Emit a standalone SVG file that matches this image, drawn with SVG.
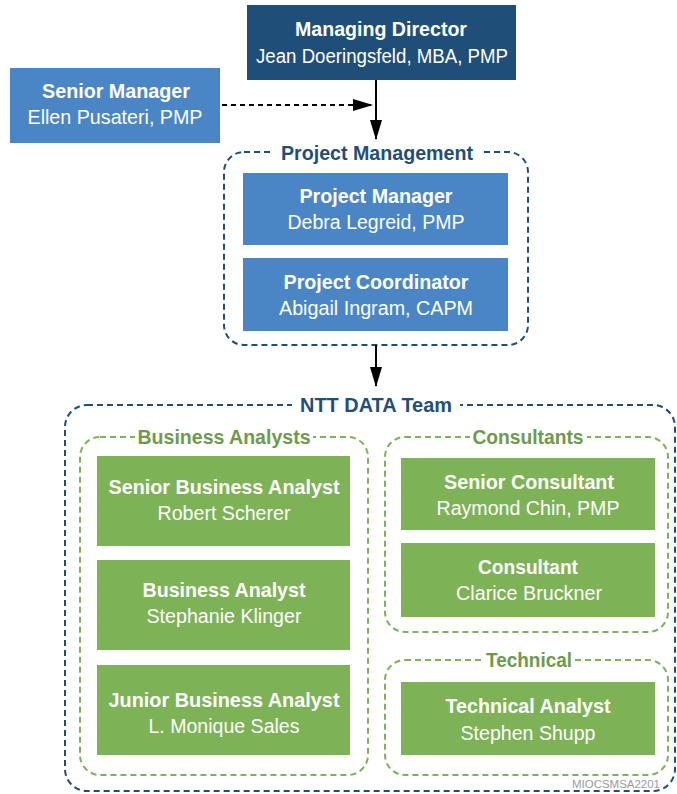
<svg xmlns="http://www.w3.org/2000/svg" width="677" height="794" viewBox="0 0 677 794">
<defs>
<style>
text{font-family:"Liberation Sans Narrow","Liberation Sans",Arial,sans-serif;text-anchor:middle}
.t{font-weight:bold;font-size:21px;fill:#fff}
.n{font-size:20px;fill:#fff}
.dark{fill:#1F4E79}
.blue{fill:#4A86C6}
.green{fill:#7DB356}
.cb{fill:none;stroke:#1F4E79;stroke-width:2;stroke-dasharray:6 4}
.cg{fill:none;stroke:#7DB356;stroke-width:2;stroke-dasharray:6 4}
.lb{font-weight:bold;font-size:21px;fill:#1F4E79}
.lg{font-weight:bold;font-size:20px;fill:#6E9A4C}
.bg{fill:#fff}
.conn{stroke:#000;stroke-width:2;fill:none}
</style>
<marker id="ah" viewBox="0 0 20 12" refX="19" refY="6" markerWidth="20" markerHeight="12" markerUnits="userSpaceOnUse" orient="auto">
<path d="M0,0 L20,6 L0,12 z" fill="#000"/>
</marker>
</defs>
<rect width="677" height="794" fill="#fff"/>

<g id="containers">
<g id="grp-pm">
<rect class="cb" x="224" y="152" width="304" height="193" rx="20"/>
<rect class="bg" x="274" y="140" width="206" height="24"/>
<text class="lb" x="377" y="160" textLength="192" lengthAdjust="spacingAndGlyphs">Project Management</text>
</g>
<g id="grp-ntt">
<rect class="cb" x="65" y="405" width="610" height="386" rx="22"/>
<rect class="bg" x="292" y="392" width="168" height="24"/>
<text class="lb" x="376" y="412" textLength="152" lengthAdjust="spacingAndGlyphs">NTT DATA Team</text>
</g>
<g id="grp-ba">
<rect class="cg" x="80" y="437" width="288" height="338" rx="20"/>
<rect class="bg" x="135" y="425" width="178" height="22"/>
<text class="lg" x="224" y="444" textLength="173" lengthAdjust="spacingAndGlyphs">Business Analysts</text>
</g>
<g id="grp-cons">
<rect class="cg" x="385" y="437" width="283" height="195" rx="20"/>
<rect class="bg" x="470" y="425" width="117" height="22"/>
<text class="lg" x="528" y="444" textLength="111" lengthAdjust="spacingAndGlyphs">Consultants</text>
</g>
<g id="grp-tech">
<rect class="cg" x="385" y="660" width="283" height="115" rx="20"/>
<rect class="bg" x="484" y="648" width="90" height="22"/>
<text class="lg" x="529" y="667" textLength="86" lengthAdjust="spacingAndGlyphs">Technical</text>
</g>
</g>

<g id="connectors">
<line class="conn" x1="376" y1="80" x2="376" y2="139" marker-end="url(#ah)"/>
<line class="conn" x1="222" y1="105" x2="372" y2="105" stroke-dasharray="5 4" marker-end="url(#ah)"/>
<line class="conn" x1="376" y1="345" x2="376" y2="386" marker-end="url(#ah)"/>
</g>

<g id="managing-director">
<rect class="dark" x="247" y="5" width="269" height="75"/>
<text class="t" x="381" y="36" textLength="172" lengthAdjust="spacingAndGlyphs">Managing Director</text>
<text class="n" x="382" y="63" textLength="252" lengthAdjust="spacingAndGlyphs">Jean Doeringsfeld, MBA, PMP</text>
</g>
<g id="senior-manager">
<rect class="blue" x="10" y="68" width="210" height="75"/>
<text class="t" x="116" y="98" textLength="148" lengthAdjust="spacingAndGlyphs">Senior Manager</text>
<text class="n" x="115" y="124" textLength="175" lengthAdjust="spacingAndGlyphs">Ellen Pusateri, PMP</text>
</g>
<g id="project-manager">
<rect class="blue" x="243" y="173" width="265" height="72"/>
<text class="t" x="376" y="203" textLength="153" lengthAdjust="spacingAndGlyphs">Project Manager</text>
<text class="n" x="376" y="229" textLength="177" lengthAdjust="spacingAndGlyphs">Debra Legreid, PMP</text>
</g>
<g id="project-coordinator">
<rect class="blue" x="243" y="258" width="265" height="73"/>
<text class="t" x="376" y="289" textLength="185" lengthAdjust="spacingAndGlyphs">Project Coordinator</text>
<text class="n" x="376" y="315" textLength="194" lengthAdjust="spacingAndGlyphs">Abigail Ingram, CAPM</text>
</g>
<g id="senior-ba">
<rect class="green" x="97" y="456" width="253" height="90"/>
<text class="t" x="224" y="494" textLength="231" lengthAdjust="spacingAndGlyphs">Senior Business Analyst</text>
<text class="n" x="224" y="520" textLength="133" lengthAdjust="spacingAndGlyphs">Robert Scherer</text>
</g>
<g id="ba">
<rect class="green" x="97" y="560" width="253" height="90"/>
<text class="t" x="224" y="597" textLength="163" lengthAdjust="spacingAndGlyphs">Business Analyst</text>
<text class="n" x="224" y="623" textLength="155" lengthAdjust="spacingAndGlyphs">Stephanie Klinger</text>
</g>
<g id="junior-ba">
<rect class="green" x="97" y="665" width="253" height="90"/>
<text class="t" x="224" y="707" textLength="231" lengthAdjust="spacingAndGlyphs">Junior Business Analyst</text>
<text class="n" x="224" y="733" textLength="151" lengthAdjust="spacingAndGlyphs">L. Monique Sales</text>
</g>
<g id="senior-consultant">
<rect class="green" x="401" y="458" width="254" height="72"/>
<text class="t" x="529" y="489" textLength="170" lengthAdjust="spacingAndGlyphs">Senior Consultant</text>
<text class="n" x="528" y="515" textLength="183" lengthAdjust="spacingAndGlyphs">Raymond Chin, PMP</text>
</g>
<g id="consultant">
<rect class="green" x="401" y="543" width="254" height="74"/>
<text class="t" x="528" y="574" textLength="100" lengthAdjust="spacingAndGlyphs">Consultant</text>
<text class="n" x="529" y="600" textLength="146" lengthAdjust="spacingAndGlyphs">Clarice Bruckner</text>
</g>
<g id="technical-analyst">
<rect class="green" x="401" y="682" width="254" height="73"/>
<text class="t" x="528" y="713" textLength="165" lengthAdjust="spacingAndGlyphs">Technical Analyst</text>
<text class="n" x="528" y="740" textLength="135" lengthAdjust="spacingAndGlyphs">Stephen Shupp</text>
</g>
<text x="616" y="788" style="font-size:10px;fill:#9a9a9a" textLength="88" lengthAdjust="spacingAndGlyphs">MIOCSMSA2201</text>
</svg>
